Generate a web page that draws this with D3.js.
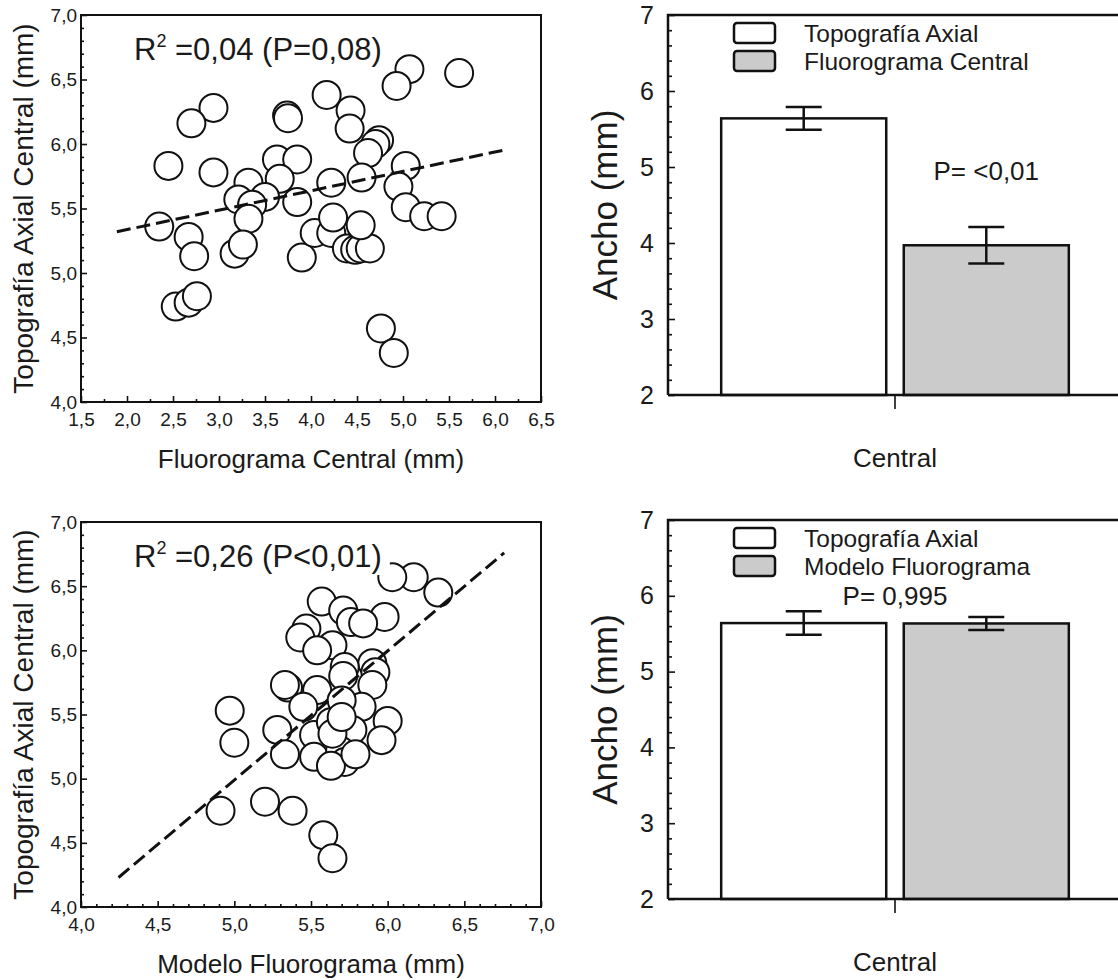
<!DOCTYPE html>
<html>
<head>
<meta charset="utf-8">
<script src="https://cdn.jsdelivr.net/npm/d3@7"></script>
<style>
  body { margin: 0; background: #fff; }
  svg text { font-family: "Liberation Sans", Arial, sans-serif; fill: #1a1a1a; }
</style>
</head>
<body>
<svg id="fig" width="1118" height="980"></svg>
<script>
// ---- data ----
// top-left scatter: Fluorograma Central (x) vs Topografia Axial Central (y)
const fluoroCentralX = [5.61, 5.07, 4.93, 4.17, 4.43, 4.42, 2.94, 2.70, 3.74, 3.75,
  4.74, 4.70, 4.62, 2.45, 2.94, 3.63, 3.85, 3.66, 3.32, 4.22,
  4.55, 5.03, 4.95, 5.03, 5.23, 5.42, 3.85, 3.50, 3.21, 3.36,
  3.32, 2.35, 2.67, 2.73, 3.17, 3.26, 3.90, 4.04, 4.22, 4.24,
  4.39, 4.48, 4.54, 4.64, 4.54, 2.53, 2.67, 2.76, 4.76, 4.90];
const topoAxialTopY = [6.55, 6.58, 6.45, 6.38, 6.26, 6.12, 6.28, 6.16, 6.22, 6.20,
  6.03, 6.00, 5.93, 5.83, 5.78, 5.88, 5.88, 5.73, 5.70, 5.70,
  5.74, 5.83, 5.67, 5.51, 5.44, 5.44, 5.55, 5.59, 5.57, 5.53,
  5.42, 5.36, 5.28, 5.13, 5.15, 5.22, 5.12, 5.31, 5.31, 5.43,
  5.19, 5.18, 5.19, 5.19, 5.37, 4.74, 4.77, 4.82, 4.57, 4.38];
const topFit = [[1.89, 5.32], [6.08, 5.95]];

// bottom-left scatter: Modelo Fluorograma (x) vs Topografia Axial Central (y)
const modeloFluoroX = [6.33, 6.17, 6.03, 5.57, 5.98, 5.71, 5.76, 5.84, 5.47, 5.43,
  5.64, 5.54, 5.90, 5.92, 5.72, 5.71, 5.90, 5.35, 5.33, 5.54,
  5.45, 5.83, 5.70, 4.97, 5.00, 5.28, 5.33, 5.52, 5.63, 5.77,
  6.00, 5.96, 5.52, 5.69, 5.72, 5.63, 5.64, 4.91, 5.20, 5.38,
  5.58, 5.64, 5.79, 5.70];
const topoAxialBottomY = [6.45, 6.57, 6.57, 6.38, 6.26, 6.31, 6.22, 6.21, 6.17, 6.10,
  6.04, 6.00, 5.90, 5.83, 5.87, 5.80, 5.73, 5.71, 5.73, 5.69,
  5.56, 5.56, 5.61, 5.53, 5.28, 5.38, 5.19, 5.34, 5.44, 5.38,
  5.45, 5.30, 5.17, 5.22, 5.13, 5.10, 5.35, 4.75, 4.82, 4.75,
  4.56, 4.38, 5.19, 5.48];
const bottomFit = [[4.245, 4.23], [6.76, 6.76]];

const scatterYTicks = [4.0, 4.5, 5.0, 5.5, 6.0, 6.5, 7.0];
const topXTicks = [1.5, 2.0, 2.5, 3.0, 3.5, 4.0, 4.5, 5.0, 5.5, 6.0, 6.5];
const bottomXTicks = [4.0, 4.5, 5.0, 5.5, 6.0, 6.5, 7.0];

// bar panels
const barCategory = ["Central"];
const topBarNames = ["Topografía Axial", "Fluorograma Central"];
const topBarMeans = [5.64, 3.97];
const topBarErrors = [0.15, 0.24];
const bottomBarNames = ["Topografía Axial", "Modelo Fluorograma"];
const bottomBarMeans = [5.64, 5.635];
const bottomBarErrors = [0.155, 0.085];
const barYTicks = [2, 3, 4, 5, 6, 7];
const barColors = ["#ffffff", "#cbcbcb"];

const svg = d3.select("#fig");
const comma = d => d3.format(".1f")(d).replace(".", ",");

function styleAxis(sel, size) {
  sel.select(".domain").remove();
  sel.attr("font-family", null).attr("font-size", size);
  sel.selectAll("line").attr("stroke", "#111").attr("stroke-width", 1.6);
  sel.selectAll("text").attr("fill", "#1a1a1a");
}

function scatterPanel(cfg) {
  const box = cfg.box;
  const x = d3.scaleLinear().domain(cfg.xDomain).range([box.left, box.right]);
  const y = d3.scaleLinear().domain([4, 7]).range([box.bottom, box.top]);
  const g = svg.append("g");
  const pts = cfg.xs.map((d, i) => [d, cfg.ys[i]]);

  g.selectAll("circle").data(pts).join("circle")
    .attr("cx", d => x(d[0]))
    .attr("cy", d => y(d[1]))
    .attr("r", 14)
    .attr("fill", "#fff")
    .attr("stroke", "#111")
    .attr("stroke-width", 2);

  // regression line
  g.append("line")
    .attr("x1", x(cfg.fit[0][0])).attr("y1", y(cfg.fit[0][1]))
    .attr("x2", x(cfg.fit[1][0])).attr("y2", y(cfg.fit[1][1]))
    .attr("stroke", "#111").attr("stroke-width", 3)
    .attr("stroke-dasharray", "14,6");

  // R2 label, with white box knocking out the points under it
  const knock = g.append("rect").attr("fill", "#fff");
  const t = g.append("text")
    .attr("x", box.left + 53).attr("y", box.top + 45)
    .attr("font-size", 31);
  t.append("tspan").text("R");
  t.append("tspan").attr("dy", -13).attr("font-size", 18).text("2");
  t.append("tspan").attr("dy", 13).text(" =" + cfg.stat);
  const bb = t.node().getBBox();
  knock.attr("x", bb.x).attr("y", bb.y).attr("width", bb.width + 8).attr("height", bb.height + 1);

  // frame
  g.append("rect")
    .attr("x", box.left).attr("y", box.top)
    .attr("width", box.right - box.left).attr("height", box.bottom - box.top)
    .attr("fill", "none").attr("stroke", "#111").attr("stroke-width", 2);

  // axes, ticks inward
  g.append("g").attr("transform", `translate(0,${box.bottom})`)
    .call(d3.axisBottom(x).tickValues(cfg.xTicks).tickSize(-6).tickPadding(11).tickFormat(comma))
    .call(s => styleAxis(s, 19));
  g.append("g").attr("transform", `translate(0,${box.bottom})`)
    .call(d3.axisBottom(x).tickValues(cfg.xMinor).tickSize(-3).tickFormat(""))
    .call(s => styleAxis(s, 19));
  g.append("g").attr("transform", `translate(${box.left},0)`)
    .call(d3.axisLeft(y).tickValues(scatterYTicks).tickSize(-6).tickPadding(4).tickFormat(comma))
    .call(s => styleAxis(s, 19));
  g.append("g").attr("transform", `translate(${box.left},0)`)
    .call(d3.axisLeft(y).tickValues(d3.range(41, 70).map(v => v / 10).filter(v => v % 0.5 > 0.01 && v % 0.5 < 0.49)).tickSize(-3).tickFormat(""))
    .call(s => styleAxis(s, 19));

  g.append("text")
    .attr("x", (box.left + box.right) / 2).attr("y", box.bottom + 66)
    .attr("text-anchor", "middle").attr("font-size", 26)
    .text(cfg.xTitle);
  g.append("text")
    .attr("transform", `translate(33,${(box.top + box.bottom) / 2}) rotate(-90)`)
    .attr("text-anchor", "middle").attr("font-size", 28)
    .text("Topografía Axial Central (mm)");
}

function barPanel(cfg) {
  const box = cfg.box;
  const y = d3.scaleLinear().domain([2, 7]).range([box.bottom, box.top]);
  const x0 = d3.scaleBand().domain(barCategory).range([box.left, box.right])
    .paddingInner(0).paddingOuter(0.153);
  const x1 = d3.scaleBand().domain(cfg.names).range([0, x0.bandwidth()]).paddingInner(0.096);
  const g = svg.append("g");
  const rows = cfg.names.map((n, i) => ({ name: n, mean: cfg.means[i], err: cfg.errs[i], color: barColors[i] }));

  g.selectAll("rect.bar").data(rows).join("rect")
    .attr("class", "bar")
    .attr("x", d => x0("Central") + x1(d.name))
    .attr("y", d => y(d.mean))
    .attr("width", x1.bandwidth())
    .attr("height", d => y(2) - y(d.mean))
    .attr("fill", d => d.color)
    .attr("stroke", "#111").attr("stroke-width", 2.5);

  const eb = g.selectAll("g.err").data(rows).join("g")
    .attr("class", "err")
    .attr("transform", d => `translate(${x0("Central") + x1(d.name) + x1.bandwidth() / 2},0)`)
    .attr("stroke", "#111").attr("stroke-width", 2.5);
  eb.append("line").attr("y1", d => y(d.mean - d.err)).attr("y2", d => y(d.mean + d.err));
  eb.append("line").attr("x1", -18).attr("x2", 18).attr("y1", d => y(d.mean + d.err)).attr("y2", d => y(d.mean + d.err));
  eb.append("line").attr("x1", -18).attr("x2", 18).attr("y1", d => y(d.mean - d.err)).attr("y2", d => y(d.mean - d.err));

  // frame: left, top and baseline (right side runs off the figure)
  g.append("path")
    .attr("d", `M${box.left},${box.bottom}V${box.top}H${box.right}M${box.left},${box.bottom}H${box.right}`)
    .attr("fill", "none").attr("stroke", "#111").attr("stroke-width", 2.5);

  g.append("g").attr("transform", `translate(${box.left},0)`)
    .call(d3.axisLeft(y).tickValues(barYTicks).tickSize(-7).tickPadding(14).tickFormat(d3.format("d")))
    .call(s => styleAxis(s, 25));
  g.append("g").attr("transform", `translate(${box.left},0)`)
    .call(d3.axisLeft(y).tickValues(d3.range(22, 70, 2).map(v => v / 10).filter(v => v % 1 !== 0)).tickSize(-4).tickFormat(""))
    .call(s => styleAxis(s, 25));
  g.append("g").attr("transform", `translate(0,${box.bottom})`)
    .call(d3.axisBottom(x0).tickSize(14).tickPadding(40))
    .call(s => styleAxis(s, 26));

  // legend
  const lg = g.selectAll("g.leg").data(rows).join("g")
    .attr("class", "leg")
    .attr("transform", (d, i) => `translate(${box.left + 66},${box.top + 8 + i * 28})`);
  lg.append("rect").attr("width", 41).attr("height", 20).attr("rx", 3)
    .attr("fill", d => d.color).attr("stroke", "#111").attr("stroke-width", 2.5);
  lg.append("text").attr("x", 70).attr("y", 19).attr("font-size", 24.5).text(d => d.name);

  g.append("text")
    .attr("x", cfg.pAtBar == null ? x0("Central") + x0.bandwidth() / 2 : x0("Central") + x1(cfg.names[cfg.pAtBar]) + x1.bandwidth() / 2)
    .attr("y", box.top + cfg.pDy)
    .attr("text-anchor", "middle").attr("font-size", 26)
    .text(cfg.pText);

  g.append("text")
    .attr("transform", `translate(617,${(box.top + box.bottom) / 2}) rotate(-90)`)
    .attr("text-anchor", "middle").attr("font-size", 35)
    .text("Ancho (mm)");
}

scatterPanel({
  box: { left: 81, right: 541, top: 15, bottom: 402 },
  xDomain: [1.5, 6.5], xTicks: topXTicks, xMinor: d3.range(1.75, 6.5, 0.5),
  xs: fluoroCentralX, ys: topoAxialTopY, fit: topFit,
  stat: "0,04 (P=0,08)", xTitle: "Fluorograma Central (mm)"
});
scatterPanel({
  box: { left: 81, right: 541, top: 522, bottom: 907 },
  xDomain: [4, 7], xTicks: bottomXTicks,
  xMinor: d3.range(41, 70).map(v => v / 10).filter(v => v % 0.5 > 0.01 && v % 0.5 < 0.49),
  xs: modeloFluoroX, ys: topoAxialBottomY, fit: bottomFit,
  stat: "0,26 (P<0,01)", xTitle: "Modelo Fluorograma (mm)"
});
barPanel({
  box: { left: 668, right: 1122, top: 15, bottom: 395 },
  names: topBarNames, means: topBarMeans, errs: topBarErrors,
  pText: "P= <0,01", pAtBar: 1, pDy: 165
});
barPanel({
  box: { left: 668, right: 1122, top: 520, bottom: 899 },
  names: bottomBarNames, means: bottomBarMeans, errs: bottomBarErrors,
  pText: "P= 0,995", pAtBar: null, pDy: 85
});
</script>
</body>
</html>
